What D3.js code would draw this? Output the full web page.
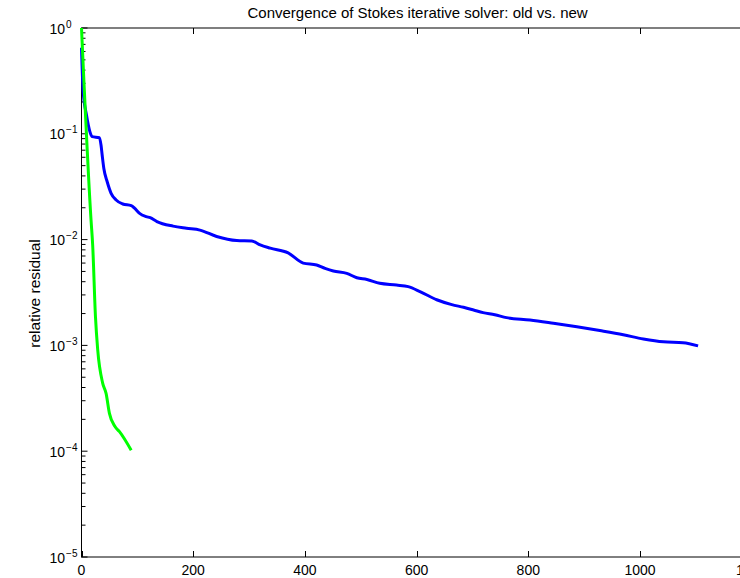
<!DOCTYPE html>
<html>
<head>
<meta charset="utf-8">
<script src="https://cdn.jsdelivr.net/npm/d3@7"></script>
<style>
  body { margin: 0; background: #fff; }
  text { font-family: "Liberation Sans", Arial, Helvetica, sans-serif; fill: #000; }
</style>
</head>
<body>
<div class="chart"></div>
<script>
// old solver (blue)
const oldIter = [0, 3, 9, 15, 19, 32, 35, 37, 40, 46, 53, 62, 74, 89, 95, 104, 116, 123, 135, 164, 188,
  212, 242, 278, 305, 320, 338, 370, 397, 421, 436, 451, 475, 493, 511, 534, 564, 585, 606, 636,
  663, 684, 702, 719, 740, 761, 803, 845, 887, 928, 970, 1006, 1042, 1077, 1104];
const oldRes = [0.65, 0.25, 0.15, 0.105, 0.094, 0.092, 0.078, 0.063, 0.047, 0.0352, 0.0274, 0.0237,
  0.0217, 0.0209, 0.0198, 0.0177, 0.0165, 0.0161, 0.0148, 0.0134, 0.0128,
  0.0123, 0.0107, 0.0098, 0.0097, 0.0089, 0.0083, 0.0075, 0.0060, 0.00575, 0.00535, 0.00505, 0.0048,
  0.00436, 0.0042, 0.00386, 0.00372, 0.00359, 0.00323, 0.0027,
  0.00243, 0.00229, 0.00216, 0.00204, 0.00195, 0.00183, 0.00174, 0.00162, 0.0015, 0.00138, 0.00126,
  0.00115, 0.00108, 0.00106, 0.00099];

// new solver (green)
const newIter = [0, 17, 20, 25, 29, 38, 44, 50, 60, 68, 89];
const newRes = [1.0, 0.0155, 0.0089, 0.00187, 0.00091, 0.000438, 0.000352, 0.000228, 0.000171, 0.000153, 0.000102];

const xTicks = [0, 200, 400, 600, 800, 1000, 1200];
const yExps = [0, -1, -2, -3, -4, -5];

const width = 740;
const height = 578;
const pLeft = 81.5, pRight = 751.7, pTop = 28, pBottom = 557;

const svg = d3.select('.chart')
  .append('svg')
  .attr('width', width)
  .attr('height', height);

const x = d3.scaleLinear().domain([0, 1200]).range([pLeft, pRight]);
const y = d3.scaleLog().domain([1e-5, 1]).range([pBottom, pTop]);

// box
svg.append('rect')
  .attr('x', pLeft).attr('y', pTop)
  .attr('width', pRight - pLeft).attr('height', pBottom - pTop)
  .attr('fill', 'none').attr('stroke', '#000').attr('stroke-width', 1);

// x ticks (bottom pointing up, top pointing down)
xTicks.forEach(t => {
  svg.append('line')
    .attr('x1', Math.round(x(t)) + 0.5).attr('x2', Math.round(x(t)) + 0.5)
    .attr('y1', pBottom).attr('y2', pBottom - 6)
    .attr('stroke', '#000');
  svg.append('line')
    .attr('x1', Math.round(x(t)) + 0.5).attr('x2', Math.round(x(t)) + 0.5)
    .attr('y1', pTop).attr('y2', pTop + 6)
    .attr('stroke', '#000');
  svg.append('text')
    .attr('x', x(t)).attr('y', 575)
    .attr('font-size', 14)
    .attr('text-anchor', 'middle')
    .text(t);
});

// y ticks, major + minor
yExps.forEach(e => {
  const v = Math.pow(10, e);
  svg.append('line')
    .attr('x1', pLeft).attr('x2', pLeft + 6)
    .attr('y1', y(v)).attr('y2', y(v))
    .attr('stroke', '#000');
  if (e > -5) {
    for (let k = 2; k <= 9; k++) {
      const m = k * Math.pow(10, e - 1);
      svg.append('line')
        .attr('x1', pLeft).attr('x2', pLeft + 4)
        .attr('y1', y(m)).attr('y2', y(m))
        .attr('stroke', '#000');
    }
  }
  const lbl = svg.append('text')
    .attr('x', 49.5).attr('y', y(v) + 5.5)
    .attr('font-size', 14);
  lbl.append('tspan').text('10');
  lbl.append('tspan')
    .attr('font-size', 10)
    .attr('dx', 1)
    .attr('dy', -6)
    .text(e === 0 ? '0' : '\u2212' + (-e));
});

// lines
const line = d3.line()
  .x(d => x(d[0]))
  .y(d => y(d[1]))
  .curve(d3.curveMonotoneX);

svg.append('path')
  .datum(oldIter.map((d, i) => [d, oldRes[i]]))
  .attr('d', line)
  .attr('fill', 'none')
  .attr('stroke', '#0000ff')
  .attr('stroke-width', 3)
  .attr('stroke-linejoin', 'round');

svg.append('path')
  .datum(newIter.map((d, i) => [d, newRes[i]]))
  .attr('d', line)
  .attr('fill', 'none')
  .attr('stroke', '#00ff00')
  .attr('stroke-width', 3)
  .attr('stroke-linejoin', 'round');

// title and y label
svg.append('text')
  .attr('x', (pLeft + pRight) / 2 + 1).attr('y', 18)
  .attr('font-size', 15)
  .attr('text-anchor', 'middle')
  .text('Convergence of Stokes iterative solver: old vs. new');

svg.append('text')
  .attr('transform', 'translate(39.5,' + ((pTop + pBottom) / 2 + 1) + ') rotate(-90)')
  .attr('font-size', 15.5)
  .attr('text-anchor', 'middle')
  .text('relative residual');
</script>
</body>
</html>
